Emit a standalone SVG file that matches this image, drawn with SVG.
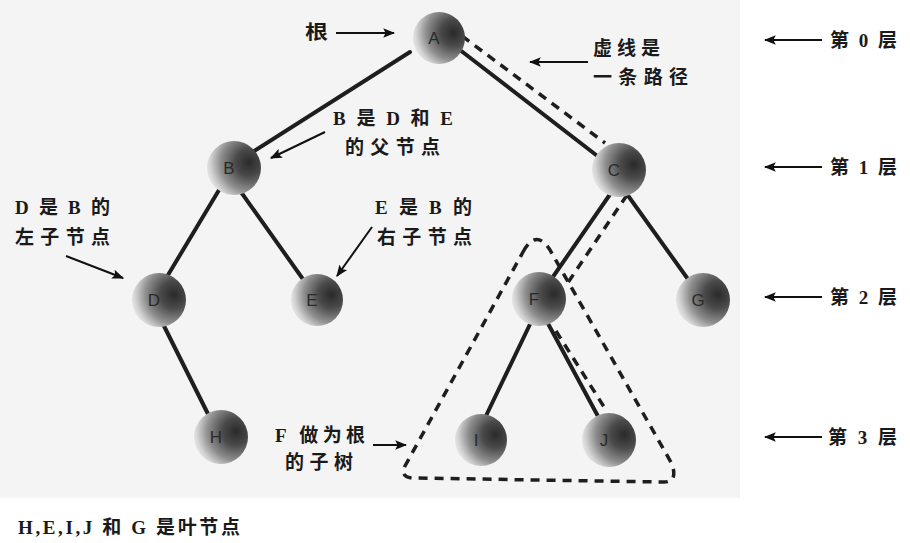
<svg xmlns="http://www.w3.org/2000/svg" width="910" height="543" viewBox="0 0 910 543">
<defs>
<radialGradient id="sph" cx="0.78" cy="0.4" r="0.85" fx="0.78" fy="0.4">
<stop offset="0" stop-color="#2a2a2a"/>
<stop offset="0.3" stop-color="#4a4a4a"/>
<stop offset="0.62" stop-color="#8e8e8e"/>
<stop offset="0.85" stop-color="#d4d4d4"/>
<stop offset="1" stop-color="#f2f2f2"/>
</radialGradient>
<marker id="ah" viewBox="0 0 10 10" refX="9" refY="5" markerWidth="6" markerHeight="6" orient="auto" markerUnits="strokeWidth">
<path d="M0,1 L10,5 L0,9 L2,5 Z" fill="#111"/>
</marker>
<style>
.edge{stroke:#1e1e1e;stroke-width:4;stroke-linecap:round;fill:none}
.dash{stroke:#1e1e1e;stroke-width:3.5;stroke-dasharray:9 7;fill:none}
.arr{stroke:#111;stroke-width:2;fill:none;marker-end:url(#ah)}
.node circle{fill:url(#sph)}
.node text{font-family:"Liberation Sans",Arial,sans-serif;font-size:17px;fill:#2a2a2a;text-anchor:middle}
.lbl{font-family:"Liberation Serif","Noto Sans CJK SC",serif;font-size:19px;font-weight:bold;fill:#1a1a1a}
</style>
</defs>
<rect x="0" y="0" width="740" height="498" fill="#f4f4f4"/>
<rect x="740" y="0" width="170" height="543" fill="#fff"/>
<rect x="0" y="498" width="740" height="45" fill="#fff"/>
<g id="connectors">
<line class="edge" x1="410" y1="52" x2="240" y2="160"/>
<line class="edge" x1="460" y1="50" x2="600" y2="158"/>
<line class="edge" x1="222" y1="185" x2="165" y2="280"/>
<line class="edge" x1="236" y1="185" x2="305" y2="282"/>
<line class="edge" x1="613" y1="190" x2="548" y2="284"/>
<line class="edge" x1="624" y1="190" x2="690" y2="282"/>
<line class="edge" x1="160" y1="318" x2="210" y2="418"/>
<line class="edge" x1="533" y1="318" x2="484" y2="420"/>
<line class="edge" x1="545" y1="318" x2="600" y2="420"/>
<path class="dash" d="M462,36 L605,143"/>
<path class="dash" d="M627,195 L565,287"/>
<path class="dash" d="M556,331 L606,410"/>
<path class="dash" d="M523,252 Q536,228 550,250 L672,464 Q678,482 664,482 L412,478 Q400,477 405,466 Z"/>
</g>
<g id="node-A" class="node"><circle cx="439" cy="38" r="26"/><text x="434" y="44">A</text></g>
<g id="node-B" class="node"><circle cx="234" cy="168" r="27"/><text x="229" y="174">B</text></g>
<g id="node-C" class="node"><circle cx="619" cy="170" r="27"/><text x="614" y="176">C</text></g>
<g id="node-D" class="node"><circle cx="159" cy="300" r="27"/><text x="154" y="306">D</text></g>
<g id="node-E" class="node"><circle cx="317" cy="300" r="26"/><text x="312" y="306">E</text></g>
<g id="node-F" class="node"><circle cx="539" cy="299" r="27"/><text x="534" y="305">F</text></g>
<g id="node-G" class="node"><circle cx="703" cy="300" r="27"/><text x="698" y="306">G</text></g>
<g id="node-H" class="node"><circle cx="221" cy="437" r="27"/><text x="216" y="443">H</text></g>
<g id="node-I" class="node"><circle cx="481" cy="440" r="26"/><text x="476" y="446">I</text></g>
<g id="node-J" class="node"><circle cx="609" cy="440" r="27"/><text x="604" y="446">J</text></g>
<g id="annotations">
<text class="lbl" x="305" y="39" textLength="23" lengthAdjust="spacingAndGlyphs">根</text>
<line class="arr" x1="336" y1="33" x2="394" y2="33"/>
<text class="lbl" x="593" y="55" textLength="67" lengthAdjust="spacing">虚线是</text>
<text class="lbl" x="593" y="84" textLength="95" lengthAdjust="spacing">一条路径</text>
<line class="arr" x1="588" y1="62" x2="530" y2="62"/>
<text class="lbl" x="333" y="125" textLength="120" lengthAdjust="spacing">B 是 D 和 E</text>
<text class="lbl" x="345" y="154" textLength="95" lengthAdjust="spacing">的父节点</text>
<line class="arr" x1="325" y1="132" x2="271" y2="158"/>
<text class="lbl" x="15" y="214" textLength="95" lengthAdjust="spacing">D 是 B 的</text>
<text class="lbl" x="15" y="244" textLength="95" lengthAdjust="spacing">左子节点</text>
<line class="arr" x1="66" y1="256" x2="123" y2="278"/>
<text class="lbl" x="375" y="214" textLength="97" lengthAdjust="spacing">E 是 B 的</text>
<text class="lbl" x="377" y="244" textLength="95" lengthAdjust="spacing">右子节点</text>
<line class="arr" x1="372" y1="227" x2="337" y2="276"/>
<text class="lbl" x="275" y="442" textLength="90" lengthAdjust="spacing">F 做为根</text>
<text class="lbl" x="285" y="469" textLength="68" lengthAdjust="spacing">的子树</text>
<line class="arr" x1="373" y1="445" x2="406" y2="445"/>
</g>
<g id="levels">
<line class="arr" x1="822" y1="40" x2="765" y2="40"/>
<text class="lbl" x="830" y="47" textLength="67" lengthAdjust="spacing">第 0 层</text>
<line class="arr" x1="822" y1="167" x2="765" y2="167"/>
<text class="lbl" x="830" y="174" textLength="67" lengthAdjust="spacing">第 1 层</text>
<line class="arr" x1="822" y1="297" x2="765" y2="297"/>
<text class="lbl" x="830" y="304" textLength="67" lengthAdjust="spacing">第 2 层</text>
<line class="arr" x1="822" y1="437" x2="765" y2="437"/>
<text class="lbl" x="828" y="444" textLength="69" lengthAdjust="spacing">第 3 层</text>
</g>
<text class="lbl" x="18" y="534" font-size="18" textLength="222" lengthAdjust="spacing">H,E,I,J 和 G 是叶节点</text>
</svg>
